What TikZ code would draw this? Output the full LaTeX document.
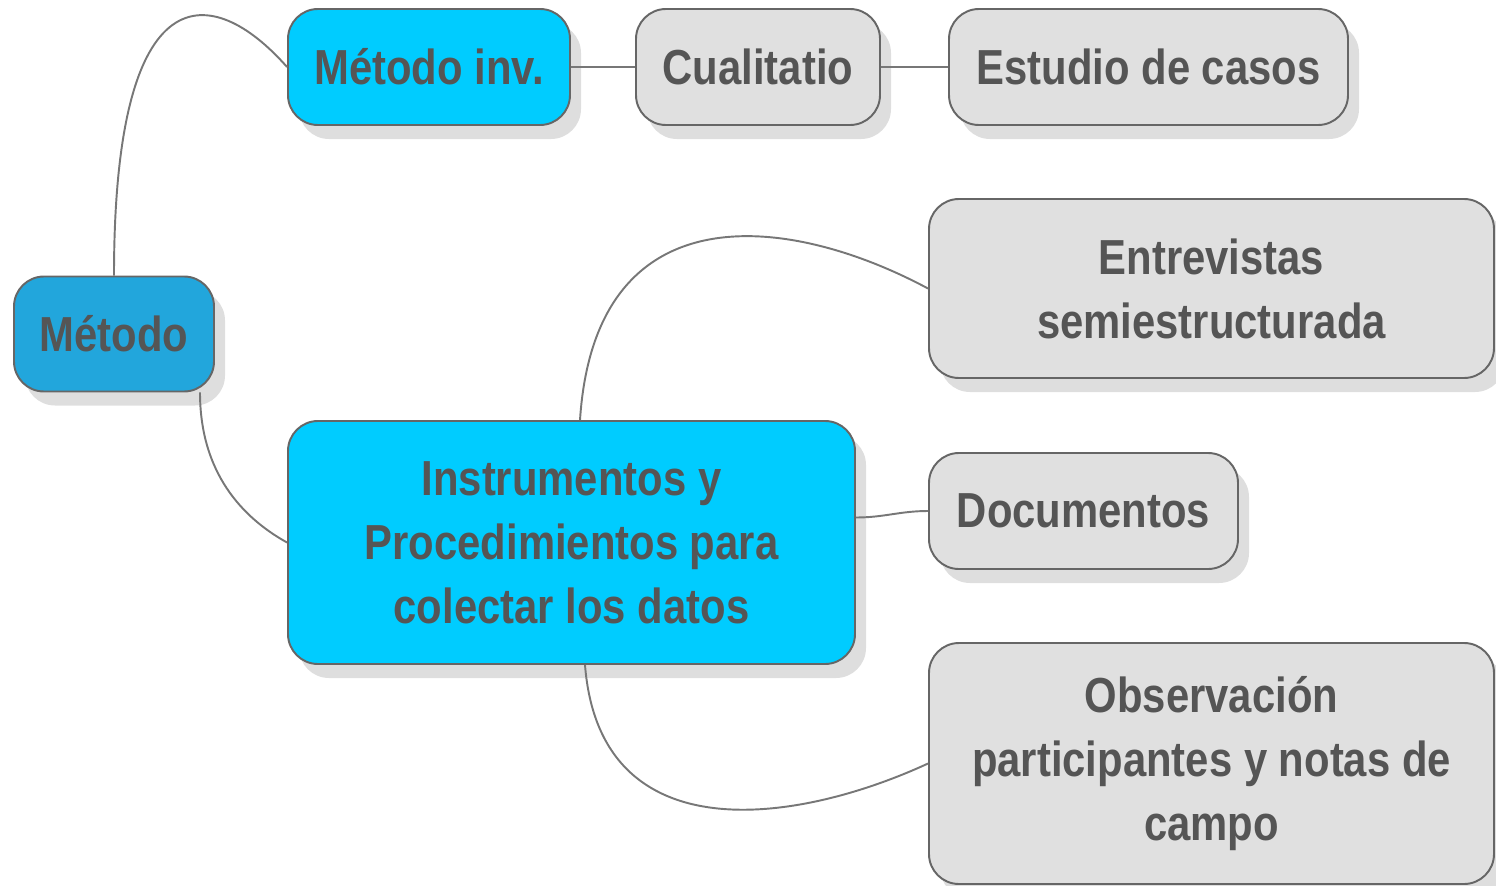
\documentclass[tikz,border=0pt]{standalone}
\usepackage{fontspec}
\newfontfamily\mapfont{Liberation Sans}[FakeStretch=0.85]
\usepackage{tikz}
\usetikzlibrary{positioning, shadows, calc}
\definecolor{rootblue}{HTML}{22A6DC}
\definecolor{mainblue}{HTML}{00CCFF}
\definecolor{leafgray}{HTML}{E0E0E0}
\definecolor{edgegray}{HTML}{666666}
\definecolor{textgray}{HTML}{555555}
\definecolor{linkgray}{HTML}{777777}

\begin{document}
\begin{tikzpicture}[
  topic box/.style={draw=edgegray, line width=1.1pt, rounded corners=0.6cm,
    align=center, text=textgray, inner sep=0pt,
    font=\mapfont\bfseries\fontsize{28}{36.4}\selectfont,
    drop shadow={shadow xshift=0.22cm, shadow yshift=-0.28cm, fill=black, opacity=0.13}},
  root box/.style={topic box, fill=rootblue},
  main box/.style={topic box, fill=mainblue},
  leaf box/.style={topic box, fill=leafgray},
  link/.style={draw=linkgray, line width=1.1pt}
]
  \useasboundingbox (0,0) rectangle (29.92,-17.72);

  % root
  \node[root box, minimum width=4.0cm, minimum height=2.3cm] (metodo) at (2.28,-6.68) {Método};

  % upper branch
  \node[main box, minimum width=5.64cm, minimum height=2.32cm] (metodo inv) at (8.58,-1.34) {Método inv.};
  \node[leaf box, minimum width=4.88cm, minimum height=2.32cm] (cualitatio) at (15.16,-1.34) {Cualitatio};
  \node[leaf box, minimum width=7.98cm, minimum height=2.32cm] (estudio) at (22.97,-1.34) {Estudio de casos};

  % lower branch
  \node[main box, minimum width=11.34cm, minimum height=4.86cm] (instrumentos) at (11.43,-10.85)
    {Instrumentos y\\Procedimientos para\\colectar los datos};
  \node[leaf box, minimum width=11.3cm, minimum height=3.58cm] (entrevistas) at (24.23,-5.77)
    {Entrevistas\\semiestructurada};
  \node[leaf box, minimum width=6.18cm, minimum height=2.32cm] (documentos) at (21.67,-10.22) {Documentos};
  \node[leaf box, minimum width=11.3cm, minimum height=4.82cm] (observacion) at (24.23,-15.27)
    {Observación\\participantes y notas de\\campo};

  % connectors
  \draw[link] (metodo.north) .. controls +(0,6.1) and +(-1.5,1.7) .. (metodo inv.west);
  \draw[link] (metodo inv.east) -- (cualitatio.west);
  \draw[link] (cualitatio.east) -- (estudio.west);
  \draw[link] ([xshift=1.72cm]metodo.south) .. controls +(0,-1.6) and +(-0.9,0.5) .. (instrumentos.west);
  \draw[link] ([xshift=0.17cm]instrumentos.north) .. controls +(0.3,4.6) and +(-2.8,1.5) .. (entrevistas.west);
  \draw[link] ([yshift=0.5cm]instrumentos.east) to[out=0, in=180] (documentos.west);
  \draw[link] ([xshift=0.27cm]instrumentos.south) .. controls +(0.3,-3.8) and +(-2.6,-1.2) .. (observacion.west);
\end{tikzpicture}
\end{document}
